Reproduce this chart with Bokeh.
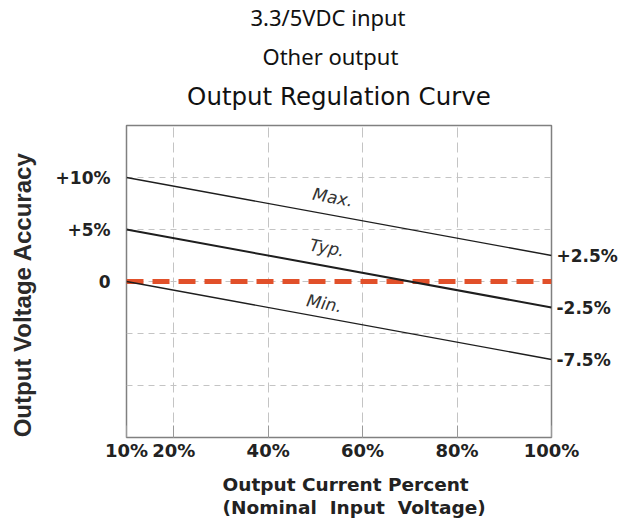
import math
from bokeh.plotting import figure
from bokeh.models import (LinearAxis, FixedTicker, Label, Range1d, Grid, Title)
from bokeh.embed import file_html
from bokeh.resources import INLINE

# ---- data ----
current_pct = [10, 100]
max_acc = [10, 2.5]
typ_acc = [5, -2.5]
min_acc = [0, -7.5]
zero_ref = [0, 0]

x_ticks = [10, 20, 40, 60, 80, 100]
x_tick_labels = ["10%", "20%", "40%", "60%", "80%", "100%"]
y_ticks = [10, 5, 0]
y_tick_labels = ["+10%", "+5%", "0"]
end_ticks = [2.5, -2.5, -7.5]
end_tick_labels = ["+2.5%", "-2.5%", "-7.5%"]
x_grid = [20, 40, 60, 80]
y_grid = [-10, -5, 0, 5, 10]

curve_names = ["Max.", "Typ.", "Min."]
curve_label_x = [53.7, 52.5, 51.9]
curve_label_y = [8.1, 3.25, -2.1]

titles = ["3.3/5VDC input", "Other output", "Output Regulation Curve"]
x_title = ["Output Current Percent", "(Nominal\u00a0 Input\u00a0 Voltage)"]
y_title = "Output Voltage Accuracy"

# ---- figure ----
p = figure(width=630, height=527, output_backend="svg", toolbar_location=None,
           title=None, x_range=Range1d(10, 100), y_range=Range1d(-15, 15),
           min_border_left=126, min_border_right=79, min_border_top=123,
           min_border_bottom=90, x_axis_type=None, y_axis_type=None)
p.background_fill_color = "white"
p.border_fill_color = "white"
p.outline_line_color = "#808080"
p.outline_line_width = 1.5

# grids
p.add_layout(Grid(dimension=0, ticker=FixedTicker(ticks=x_grid),
                  grid_line_color="#c4c4c4", grid_line_dash="10 5"))
p.add_layout(Grid(dimension=1, ticker=FixedTicker(ticks=y_grid),
                  grid_line_color="#c4c4c4", grid_line_dash="6 5"))

# bottom axis
xa = LinearAxis(ticker=FixedTicker(ticks=x_ticks))
xa.major_label_overrides = {t: l for t, l in zip(x_ticks, x_tick_labels)}
xa.axis_line_color = None
xa.major_tick_in = 12
xa.major_tick_out = 0
xa.major_tick_line_color = "#999999"
xa.minor_tick_line_color = None
xa.major_label_standoff = 2
xa.major_label_text_font = "DejaVu Sans"
xa.major_label_text_font_style = "bold"
xa.major_label_text_font_size = "18px"
xa.major_label_text_color = "#222222"
p.add_layout(xa, "below")

# left axis (with the y title as its axis label; trailing no-break spaces
# nudge the centred label slightly downward as in the reference)
ya = LinearAxis(ticker=FixedTicker(ticks=y_ticks))
ya.major_label_overrides = {t: l for t, l in zip(y_ticks, y_tick_labels)}
ya.axis_line_color = None
ya.major_tick_line_color = None
ya.major_tick_in = 0
ya.major_tick_out = 0
ya.minor_tick_line_color = None
ya.major_label_standoff = 16
ya.major_label_text_font = "DejaVu Sans"
ya.major_label_text_font_style = "bold"
ya.major_label_text_font_size = "17px"
ya.major_label_text_color = "#222222"
ya.axis_label = y_title + "\u00a0" * 4
ya.axis_label_standoff = 17
ya.axis_label_text_font = "Liberation Sans"
ya.axis_label_text_font_style = "bold"
ya.axis_label_text_font_size = "24px"
ya.axis_label_text_color = "#2a2a2a"
ya.axis_label_align = "center"
p.add_layout(ya, "left")

# right axis
ra = LinearAxis(ticker=FixedTicker(ticks=end_ticks))
ra.major_label_overrides = {t: l for t, l in zip(end_ticks, end_tick_labels)}
ra.axis_line_color = None
ra.major_tick_line_color = None
ra.major_tick_in = 0
ra.major_tick_out = 0
ra.minor_tick_line_color = None
ra.major_label_standoff = 5
ra.major_label_text_font = "DejaVu Sans"
ra.major_label_text_font_style = "bold"
ra.major_label_text_font_size = "17px"
ra.major_label_text_color = "#222222"
p.add_layout(ra, "right")

# lines
p.line(current_pct, zero_ref, line_color="#E1502A", line_width=5, line_dash="17 9")
p.line(current_pct, max_acc, line_color="#1e1e1e", line_width=1.4)
p.line(current_pct, typ_acc, line_color="#1e1e1e", line_width=2.0)
p.line(current_pct, min_acc, line_color="#1e1e1e", line_width=1.4)

ang = -math.atan((7.5 * 314 / 30) / 425)
for n, lx, ly in zip(curve_names, curve_label_x, curve_label_y):
    p.add_layout(Label(x=lx, y=ly, text=n, angle=ang, text_align="center",
                       text_baseline="middle", text_font="DejaVu Sans",
                       text_font_style="italic", text_font_size="17px",
                       text_color="#333333"))

# tick-less top axis carrying the chart heading as its label
ta = LinearAxis(ticker=FixedTicker(ticks=[]))
ta.axis_line_color = None
ta.major_tick_line_color = None
ta.minor_tick_line_color = None
ta.major_tick_in = 0
ta.major_tick_out = 0
ta.minor_tick_out = 0
ta.major_label_standoff = 0
ta.axis_label = titles[2]
ta.axis_label_standoff = 15
ta.axis_label_text_font = "DejaVu Sans"
ta.axis_label_text_font_style = "normal"
ta.axis_label_text_font_size = "24.5px"
ta.axis_label_text_color = "#111111"
p.add_layout(ta, "above")

# sub-titles above it
p.add_layout(Title(text=titles[1], align="left", offset=136, standoff=16,
                   text_font="Noto Sans", text_font_style="normal",
                   text_font_size="22px", text_color="#111111"), "above")
p.add_layout(Title(text=titles[0], align="left", offset=124, standoff=-2,
                   text_font="Noto Sans", text_font_style="normal",
                   text_font_size="22px", text_color="#111111"), "above")

# x titles below
for t, so in zip(x_title, [16, -16]):
    p.add_layout(Title(text=t, align="left", offset=96, standoff=so,
                       text_font="DejaVu Sans", text_font_style="bold",
                       text_font_size="18.5px", text_color="#222222"), "below")

open("out.html", "w").write(file_html(p, INLINE))
